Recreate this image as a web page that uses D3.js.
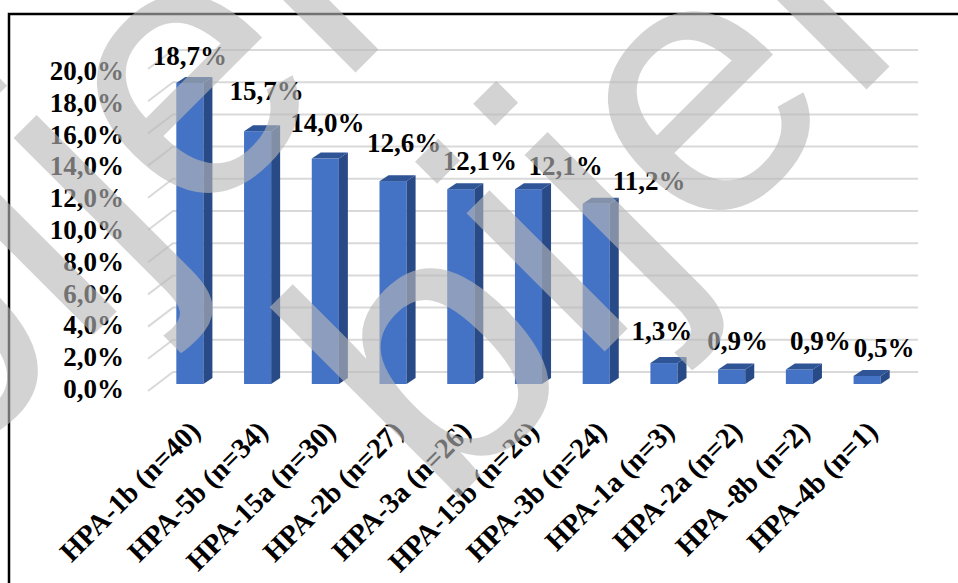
<!DOCTYPE html>
<html>
<head>
<meta charset="utf-8">
<script src="https://cdn.jsdelivr.net/npm/d3@7"></script>
<style>
  html, body { margin: 0; padding: 0; background: #fff; }
  svg { display: block; }
  .lbl { font-family: "Liberation Serif", "Noto Serif", "DejaVu Serif", serif; font-weight: bold; fill: #000; }
  .mark { font-family: "Liberation Sans", Arial, sans-serif; }
</style>
</head>
<body>
<svg id="chart" width="958" height="583"></svg>
<script>
// Share of HPA alleles in the tested group (%)
const categories = [
  "HPA-1b (n=40)", "HPA-5b (n=34)", "HPA-15a (n=30)", "HPA-2b (n=27)",
  "HPA-3a (n=26)", "HPA-15b (n=26)", "HPA-3b (n=24)", "HPA-1a (n=3)",
  "HPA-2a (n=2)", "HPA -8b (n=2)", "HPA-4b (n=1)"
];
const shares = [18.7, 15.7, 14.0, 12.6, 12.1, 12.1, 11.2, 1.3, 0.9, 0.9, 0.5];
const yTicks = [0, 2, 4, 6, 8, 10, 12, 14, 16, 18, 20];

// hand-placed offsets of the value labels (dx, dy) relative to the column top
const labelNudge = [[0, 2], [9, -11], [2, -7], [11, -9], [19, 1], [37, 6], [53, 6], [-2, -3], [6, 0], [21, 0], [17, 1]];

const svg = d3.select("#chart");

// 3D geometry of the plot box
const depth = { dx: 9, dy: -6 };          // column thickness (front -> back)
const wall = { frontX: 148, backX: 173, rightX: 918, frontDy: 7, backDy: -12 };

const x = d3.scaleBand()
  .domain(categories)
  .range([156, 901])
  .paddingInner(0.6)
  .paddingOuter(0.3);

const y = d3.scaleLinear().domain([0, 20]).range([384, 62]);
const yLabel = d3.scaleLinear().domain([0, 20]).range([388, 70]);

const comma = d3.formatLocale({ decimal: ",", thousands: ".", grouping: [3], currency: ["", ""] });
const fmtPct = v => comma.format(".1f")(v) + "%";

// outer frame
svg.append("rect")
  .attr("x", 9).attr("y", 14)
  .attr("width", 1000).attr("height", 700)
  .attr("fill", "none")
  .attr("stroke", "#000")
  .attr("stroke-width", 2.5);

// gridlines: side wall diagonal + back wall horizontal
const grid = svg.append("g").attr("stroke", "#d9d9d9").attr("stroke-width", 2).attr("fill", "none");
grid.selectAll("path")
  .data(yTicks)
  .join("path")
  .attr("d", t => {
    const yf = y(t) + wall.frontDy, yb = y(t) + wall.backDy;
    return `M${wall.frontX},${yf}L${wall.backX},${yb}L${wall.rightX},${yb}`;
  });

// columns
const bw = x.bandwidth();
const cols = svg.append("g").selectAll("g")
  .data(categories.map((c, i) => ({ c, v: shares[i], i })))
  .join("g");

cols.append("rect")
  .attr("x", d => x(d.c))
  .attr("y", d => y(d.v))
  .attr("width", bw)
  .attr("height", d => y(0) - y(d.v))
  .attr("fill", "#4472c4");

cols.append("path")
  .attr("fill", "#284a86")
  .attr("d", d => {
    const x1 = x(d.c) + bw, yt = y(d.v), y0 = y(0);
    return `M${x1},${y0}L${x1 + depth.dx},${y0 + depth.dy}L${x1 + depth.dx},${yt + depth.dy}L${x1},${yt}Z`;
  });

cols.append("path")
  .attr("fill", "#2f5597")
  .attr("d", d => {
    const x0 = x(d.c), yt = y(d.v);
    return `M${x0},${yt}L${x0 + depth.dx},${yt + depth.dy}L${x0 + bw + depth.dx},${yt + depth.dy}L${x0 + bw},${yt}Z`;
  });

// value labels
cols.append("text")
  .attr("class", "lbl")
  .attr("x", d => x(d.c) + bw / 2 + labelNudge[d.i][0])
  .attr("y", d => y(d.v) - 20 + labelNudge[d.i][1])
  .attr("text-anchor", "middle")
  .attr("font-size", 27)
  .text(d => fmtPct(d.v));

// value axis
const yAxis = svg.append("g")
  .attr("transform", "translate(124,0)")
  .call(d3.axisLeft(yLabel).tickValues(yTicks).tickFormat(fmtPct).tickSize(0).tickPadding(0));
yAxis.select(".domain").remove();
yAxis.attr("font-family", null).attr("font-size", null);
yAxis.selectAll("text")
  .attr("class", "lbl")
  .attr("font-size", 27)
  .attr("dy", "0.35em");

// category labels, rotated 45 degrees
svg.append("g").selectAll("text")
  .data(categories)
  .join("text")
  .attr("class", "lbl")
  .attr("transform", c => `translate(${x(c) + bw / 2 + 12},433) rotate(-45)`)
  .attr("text-anchor", "end")
  .attr("font-size", 28.5)
  .text(c => c);

// watermark lettering laid diagonally over the chart
const markWord = "bijel";
const markSize = 370;
const markSpots = [[197, 95], [708, 112]];   // centre of the "e" bowl
svg.append("g")
  .attr("class", "mark")
  .attr("fill", "#b8b8b8")
  .attr("fill-opacity", 0.62)
  .selectAll("text")
  .data(markSpots)
  .join("text")
  .attr("transform", p => `translate(${p[0]},${p[1]}) rotate(-45)`)
  .attr("font-size", markSize)
  .attr("x", -1.278 * markSize)
  .attr("y", 0.26 * markSize)
  .text(markWord);
</script>
</body>
</html>
